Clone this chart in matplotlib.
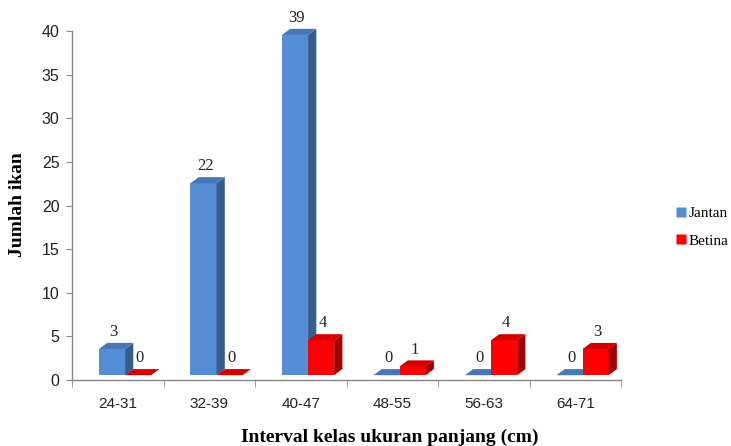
import matplotlib
matplotlib.use("Agg")
import matplotlib.pyplot as plt
from matplotlib.patches import Polygon, Rectangle
from matplotlib.lines import Line2D

categories = ["24-31", "32-39", "40-47", "48-55", "56-63", "64-71"]
jantan = [3, 22, 39, 0, 0, 0]
betina = [0, 0, 4, 1, 4, 3]
series_names = ["Jantan", "Betina"]
y_ticks = [0, 5, 10, 15, 20, 25, 30, 35, 40]

# face colours: front, side, top
blue = ("#558ED5", "#385D8A", "#4677B8")
red = ("#FF0000", "#A00000", "#D40000")

W, H = 731, 446
fig = plt.figure(figsize=(W / 100, H / 100), dpi=100)
ax = fig.add_axes([72 / W, 1 - 380 / H, (621 - 72) / W, (380 - 31) / H])
ax.set_xlim(-0.5, 5.5)
ax.set_ylim(0, 40)

serif = "Liberation Serif"
sans = "Liberation Sans"

base = 0.55      # floor of the 3D bars, in data units
bw = 0.285       # bar width
dx, dy = 0.09, 0.70  # depth offset


def bar3d(x0, v, cols):
    x1 = x0 + bw
    top = base + v
    if v > 0:
        ax.add_patch(Rectangle((x0, base), bw, v, facecolor=cols[0],
                               edgecolor="none", zorder=3, clip_on=False))
        ax.add_patch(Polygon([(x1, base), (x1, top), (x1 + dx, top + dy),
                              (x1 + dx, base + dy)], closed=True,
                             facecolor=cols[1], edgecolor="none", zorder=3,
                             clip_on=False))
    ax.add_patch(Polygon([(x0, top), (x0 + dx, top + dy), (x1 + dx, top + dy),
                          (x1, top)], closed=True, facecolor=cols[2],
                         edgecolor="none", zorder=3, clip_on=False))
    ax.annotate(str(v), (x0 + bw / 2 + dx * 0.2, top + dy),
                xytext=(0, 2), textcoords="offset points",
                ha="center", va="bottom", fontsize=12, family=serif,
                color="#222222", zorder=5, annotation_clip=False)


for i in range(len(categories)):
    bar3d(i - 0.205, jantan[i], blue)
    bar3d(i - 0.205 + bw, betina[i], red)

spine_col = "#868686"
for s in ["top", "right"]:
    ax.spines[s].set_visible(False)
for s in ["left", "bottom"]:
    ax.spines[s].set_color(spine_col)
    ax.spines[s].set_linewidth(1.0)

ax.set_yticks(y_ticks)
ax.set_xticks([i for i in range(len(categories))])
ax.set_xticklabels(categories)
ax.set_xticks([i - 0.5 for i in range(len(categories) + 1)], minor=True)
ax.tick_params(axis="x", which="major", length=0, pad=12, labelsize=11,
               labelcolor="#222222")
ax.tick_params(axis="x", which="minor", length=5, color=spine_col)
ax.tick_params(axis="y", length=4, color=spine_col, labelsize=11.5,
               labelcolor="#222222", pad=5)
for lab in ax.get_xticklabels() + ax.get_yticklabels():
    lab.set_family(sans)

fig.text(18 / W, 1 - 205 / H, "Jumlah ikan", rotation=90, ha="center",
         va="center", fontsize=14, fontweight="bold", family=serif)
fig.text(390 / W, 1 - 437 / H, "Interval kelas ukuran panjang (cm)",
         ha="center", va="center", fontsize=14, fontweight="bold",
         family=serif)

handles = [Line2D([], [], marker="s", linestyle="none", markersize=6.5,
                  markerfacecolor=c[0], markeredgecolor="none")
           for c in (blue, red)]
fig.legend(handles, series_names, loc="center left",
           bbox_to_anchor=(676 / W, 1 - 227 / H), frameon=False,
           prop={"family": serif, "size": 11}, handlelength=0.6,
           handletextpad=0.25, labelspacing=0.9, borderpad=0,
           borderaxespad=0)

fig.savefig("out.png", dpi=100)
